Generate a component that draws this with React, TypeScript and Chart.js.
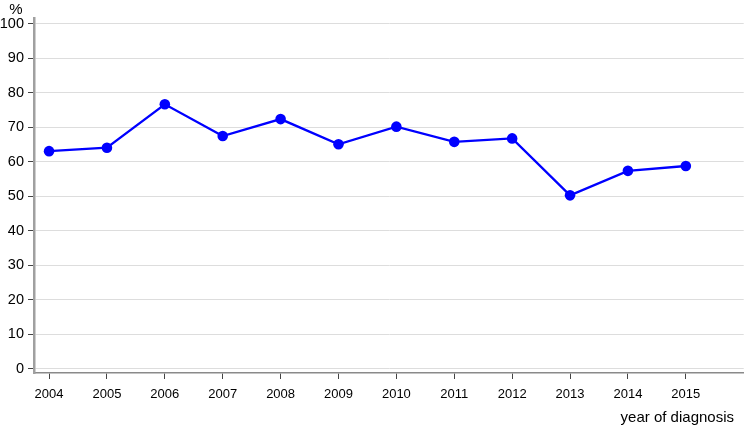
import React, { useEffect, useRef } from "react";
import { Chart, registerables } from "chart.js";

Chart.register(...registerables);

const years = [2004, 2005, 2006, 2007, 2008, 2009, 2010, 2011, 2012, 2013, 2014, 2015];
const values = [63.0, 64.0, 76.6, 67.4, 72.3, 65.0, 70.1, 65.7, 66.7, 50.2, 57.3, 58.7];
const yTicks = [0, 10, 20, 30, 40, 50, 60, 70, 80, 90, 100];
const yLabel = "%";
const xLabel = "year of diagnosis";

const FONT = "'Liberation Sans', Arial, sans-serif";

export default function App() {
  const ref = useRef<HTMLCanvasElement | null>(null);

  useEffect(() => {
    if (!ref.current) return;
    const textPlugin = {
      id: "axisTexts",
      afterDraw(chart: any) {
        const ctx = chart.ctx;
        ctx.save();
        ctx.fillStyle = "#000";
        ctx.font = `15px ${FONT}`;
        ctx.textBaseline = "middle";
        ctx.textAlign = "center";
        ctx.fillText(yLabel, 16, 10);
        ctx.textAlign = "right";
        ctx.fillText(xLabel, 734, 418);
        ctx.restore();
      },
    };
    const chart = new Chart(ref.current, {
      type: "line",
      data: {
        datasets: [
          {
            data: years.map((y, i) => ({ x: y, y: values[i] })),
            borderColor: "#0000ff",
            backgroundColor: "#0000ff",
            borderWidth: 2.3,
            pointRadius: 5.3,
            pointHoverRadius: 5.3,
            pointBorderWidth: 0,
            tension: 0,
          },
        ],
      },
      options: {
        animation: false,
        responsive: false,
        maintainAspectRatio: false,
        layout: { padding: { top: 18, right: 3, bottom: 0, left: 0 } },
        plugins: { legend: { display: false }, tooltip: { enabled: false } },
        scales: {
          x: {
            type: "linear",
            min: 2003.74,
            max: 2016,
            afterBuildTicks: (s: any) => {
              s.ticks = years.map((v) => ({ value: v }));
            },
            afterFit: (s: any) => {
              s.height = 57;
            },
            ticks: {
              autoSkip: false,
              maxRotation: 0,
              padding: 8,
              color: "#000",
              font: { family: FONT, size: 13 },
              callback: (v: any) => String(v),
            },
            grid: {
              drawOnChartArea: false,
              tickLength: 6,
              tickColor: "#444",
              tickWidth: 1,
            },
            border: { color: "#8a8a8a", width: 1.5 },
          },
          y: {
            min: -1.3,
            max: 101.6,
            afterBuildTicks: (s: any) => {
              s.ticks = yTicks.map((v) => ({ value: v }));
            },
            afterFit: (s: any) => {
              s.width = 34;
            },
            ticks: {
              padding: 4,
              color: "#000",
              font: { family: FONT, size: 14.5 },
            },
            grid: {
              color: "#dddddd",
              lineWidth: 1,
              tickLength: 6,
              tickColor: "#444",
            },
            border: { color: "#a0a0a0", width: 2.5 },
          },
        },
      },
      plugins: [textPlugin],
    });
    return () => chart.destroy();
  }, []);

  return (
    <div style={{ position: "absolute", left: 0, top: 0, width: 749, height: 430 }}>
      <canvas ref={ref} width={749} height={430} style={{ width: 749, height: 430 }} />
    </div>
  );
}
